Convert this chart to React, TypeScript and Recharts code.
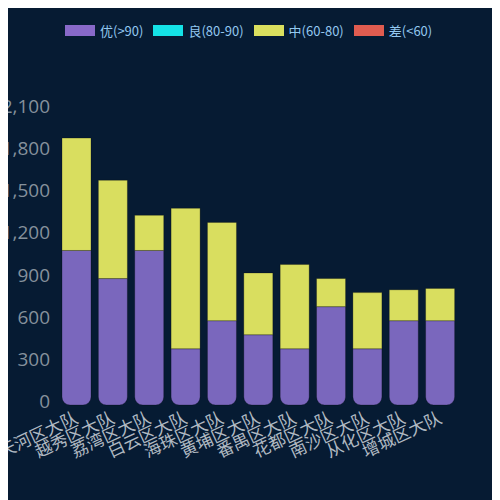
import { BarChart, Bar, XAxis, YAxis } from 'recharts';

const teams = ['天河区大队', '越秀区大队', '荔湾区大队', '白云区大队', '海珠区大队', '黄埔区大队', '番禺区大队', '花都区大队', '南沙区大队', '从化区大队', '增城区大队'];
const excellent = [1100, 900, 1100, 400, 600, 500, 400, 700, 400, 600, 600];
const good = [0, 0, 0, 0, 0, 0, 0, 0, 0, 0, 0];
const medium = [800, 700, 250, 1000, 700, 440, 600, 200, 400, 220, 230];
const poor = [0, 0, 0, 0, 0, 0, 0, 0, 0, 0, 0];
const yTicks = [0, 300, 600, 900, 1200, 1500, 1800, 2100];

const legendItems = [
  { name: '优(>90)', color: '#8869c9' },
  { name: '良(80-90)', color: '#14e2e6' },
  { name: '中(60-80)', color: '#dadf5e' },
  { name: '差(<60)', color: '#e05c50' },
];

const data = teams.map((name, i) => ({
  name,
  excellent: excellent[i],
  good: good[i],
  medium: medium[i],
  poor: poor[i],
}));

const font = '"Noto Sans CJK SC", "Noto Sans", sans-serif';

function YTick({ x, y, payload }: any) {
  return (
    <text x={x} y={y + 3} textAnchor="end" fill="#85919c" fontSize={19} fontFamily='"Open Sans", sans-serif'>
      {Number(payload.value).toLocaleString('en-US')}
    </text>
  );
}

function XTick({ x, y, payload }: any) {
  const tx = x + 3;
  const ty = y + 17;
  return (
    <text x={tx} y={ty} textAnchor="end" fill="#b0b9c2" fontSize={17} fontFamily={font} transform={`rotate(-25, ${tx}, ${ty})`}>
      {payload.value}
    </text>
  );
}

export default function App() {
  return (
    <div style={{ position: 'relative', width: 492, height: 500, marginTop: -8, background: '#061b33' }}>
      {/* legend drawn outside the chart so it does not push the plot down */}
      <div style={{ position: 'absolute', top: 21, left: 57, display: 'flex', alignItems: 'center', fontFamily: font, fontSize: 13, color: '#93c8f0' }}>
        {legendItems.map((item) => (
          <div key={item.name} style={{ display: 'flex', alignItems: 'center', marginRight: 10 }}>
            <span style={{ display: 'inline-block', width: 30, height: 11, background: item.color, marginRight: 5 }} />
            <span>{item.name}</span>
          </div>
        ))}
      </div>
      <BarChart width={492} height={500} data={data} margin={{ top: 110, right: 42, bottom: 0, left: 0 }}>
        <XAxis dataKey="name" height={95} interval={0} axisLine={false} tickLine={false} tickSize={0} tickMargin={0} tick={<XTick />} />
        <YAxis width={50} domain={[0, 2100]} ticks={yTicks} interval={0} axisLine={false} tickLine={false} tickSize={0} tickMargin={8} tick={<YTick />} />
        <Bar dataKey="excellent" name="优(>90)" stackId="a" barSize={29} fill="#7a67bd" stroke="rgba(0,0,0,0.25)" radius={[0, 0, 8, 8]} isAnimationActive={false} />
        <Bar dataKey="good" name="良(80-90)" stackId="a" barSize={29} fill="#14e2e6" stroke="rgba(0,0,0,0.25)" isAnimationActive={false} />
        <Bar dataKey="medium" name="中(60-80)" stackId="a" barSize={29} fill="#d9de5f" stroke="rgba(0,0,0,0.25)" isAnimationActive={false} />
        <Bar dataKey="poor" name="差(<60)" stackId="a" barSize={29} fill="#e05c50" stroke="rgba(0,0,0,0.25)" isAnimationActive={false} />
      </BarChart>
    </div>
  );
}
